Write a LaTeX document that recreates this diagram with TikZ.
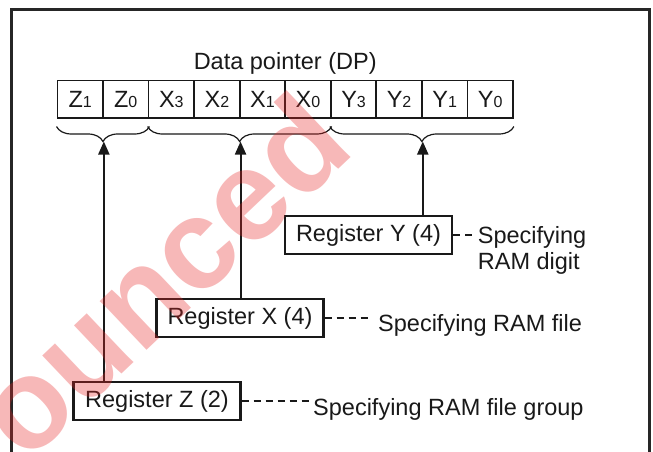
\documentclass[tikz,border=0pt]{standalone}
\usepackage{fontspec}
\setmainfont{Liberation Sans}
\usetikzlibrary{arrows.meta}
\usetikzlibrary{positioning}
\usetikzlibrary{decorations.pathreplacing}
\definecolor{stampred}{RGB}{230,40,40}
\newcommand{\bitname}[2]{#1{\fontsize{16}{16}\selectfont #2}}
\begin{document}
\begin{tikzpicture}[x=1pt, y=-1pt,
    every node/.style={font=\fontsize{23.5}{26}\selectfont, text=black!90},
    cell/.style={draw=black!90, line width=1.8pt, minimum width=45.56pt, minimum height=37.8pt, inner sep=0pt},
    regbox/.style={draw=black!90, line width=2.2pt, minimum width=167pt, minimum height=38pt, inner sep=0pt},
    note/.style={align=left, inner sep=0pt},
    bracket/.style={draw=black!90, decorate, decoration={brace, mirror, amplitude=15pt}, line width=1.2pt},
    pointer/.style={draw=black!90, line width=2pt, -{Triangle[length=13pt, width=11pt]}},
    leader/.style={draw=black!90, line width=1.3pt, dash pattern=on 7pt off 5pt}]
\useasboundingbox (0,0) rectangle (653,452);
        \draw[line width=2.5pt, black!85] (11.5,460) -- (11.5,9.7) -- (649.5,9.7) -- (649.5,460);
\foreach \reg/\bit [count=\i] in {Z/1,Z/0,X/3,X/2,X/1,X/0,Y/3,Y/2,Y/1,Y/0}
    \node[cell] (\reg\bit) at ({57.4+45.56*(\i-0.5)}, 99.4) {\bitname{\reg}{\bit}};
\node (dp) at (285.2, 63) {Data pointer (DP)};
\draw[bracket] ([yshift=-7.3pt]Z1.south west) -- ([yshift=-7.3pt]Z0.south east);
\draw[bracket] ([yshift=-7.3pt]X3.south west) -- ([yshift=-7.3pt]X0.south east);
\draw[bracket] ([yshift=-7.3pt]Y3.south west) -- ([yshift=-7.3pt]Y0.south east);
\coordinate (ztip) at ([yshift=-22.3pt]Z1.south east);
\coordinate (xtip) at ([yshift=-22.3pt]X2.south east);
\coordinate (ytip) at ([yshift=-22.3pt]Y2.south east);
\node[regbox] (yreg) at (368.5, 235) {Register Y (4)};
\node[regbox] (xreg) at (240, 318) {Register X (4)};
\node[regbox] (zreg) at (157, 401) {Register Z (2)};
\draw[pointer] (yreg.north -| ytip) -- (ytip);
\draw[pointer] (xreg.north -| xtip) -- (xtip);
\draw[pointer] (zreg.north -| ztip) -- (ztip);
\node[note, anchor=base west] (ynote) at ([xshift=24.6pt, yshift=-34pt]yreg.east) {Specifying\\RAM digit};
\node[note, anchor=base west] (xnote) at ([xshift=53.4pt, yshift=-13.5pt]xreg.east) {Specifying RAM file};
\node[note, anchor=base west] (znote) at ([xshift=71.4pt, yshift=-14pt]zreg.east) {Specifying RAM file group};
\draw[leader] (yreg) -- ([xshift=-6pt]yreg -| ynote.west);
\draw[leader] (xreg) -- ([xshift=-8pt]xreg -| xnote.west);
\draw[leader] (zreg) -- ([xshift=-4.3pt]zreg -| znote.west);
\node[rotate=43.5, anchor=mid, text=stampred, text opacity=0.33, font=\fontsize{128}{128}\selectfont\bfseries] (stamp) at (190,306) {ounced};
    \end{tikzpicture}
\end{document}
